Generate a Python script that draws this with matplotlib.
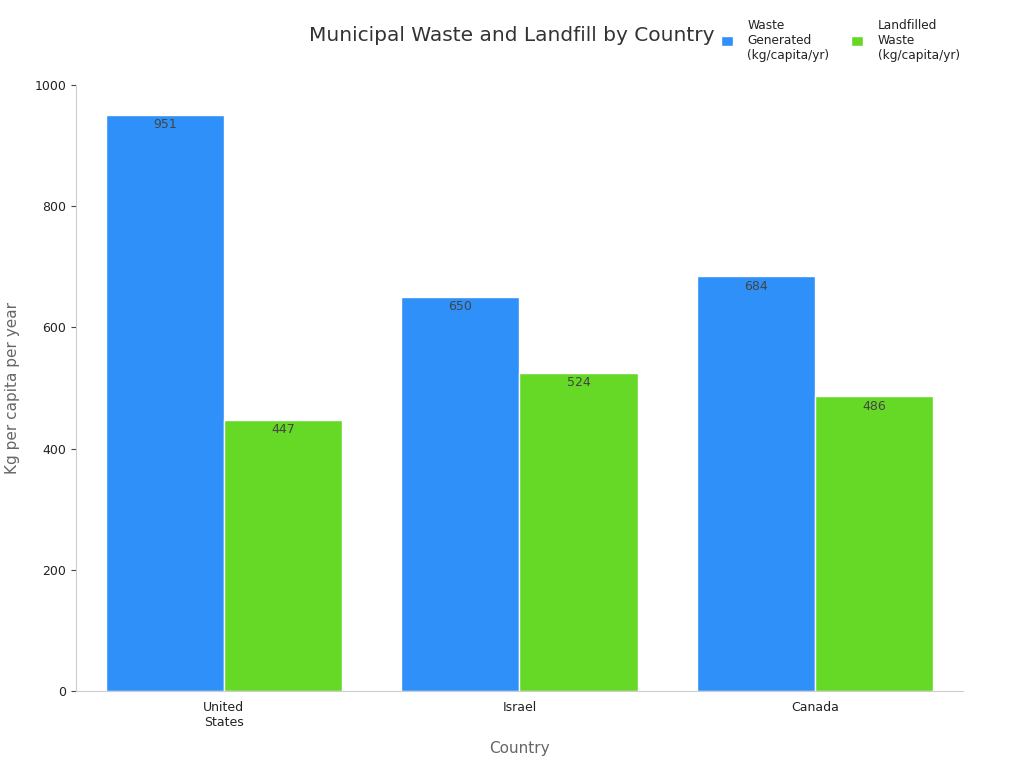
import matplotlib.pyplot as plt
import numpy as np

countries = ['United\nStates', 'Israel', 'Canada']
waste_generated = [951, 650, 684]
landfilled_waste = [447, 524, 486]
series_names = ['Waste\nGenerated\n(kg/capita/yr)', 'Landfilled\nWaste\n(kg/capita/yr)']
colors = ['#2E90F8', '#66D926']


def main():
    fig = plt.figure(figsize=(10.24, 7.68), dpi=100)
    ax = fig.add_axes([0.0742, 0.1003, 0.8662, 0.789])

    x = np.arange(len(countries))
    width = 0.4
    for i, vals in enumerate([waste_generated, landfilled_waste]):
        offset = (i - 0.5) * width
        bars = ax.bar(x + offset, vals, width, color=colors[i],
                      edgecolor='white', linewidth=1, label=series_names[i])
        for b, v in zip(bars, vals):
            ax.text(b.get_x() + b.get_width() / 2, v - 5, str(v),
                    ha='center', va='top', fontsize=9, color='#444444')

    ax.set_xlim(-0.5, 2.5)
    ax.set_ylim(0, 1000)
    ax.set_yticks([0, 200, 400, 600, 800, 1000])
    ax.set_xticks(x)
    ax.set_xticklabels(countries, fontsize=9, color='#222222')
    ax.tick_params(axis='y', labelsize=9, labelcolor='#222222', color='#444444')
    ax.tick_params(axis='x', length=0, pad=7)
    for s in ['top', 'right']:
        ax.spines[s].set_visible(False)
    for s in ['left', 'bottom']:
        ax.spines[s].set_color('#cccccc')

    ax.set_xlabel('Country', fontsize=11, color='#666666', labelpad=9)
    ax.set_ylabel('Kg per capita per year', fontsize=11, color='#666666', labelpad=10)

    fig.text(0.5, 0.954, 'Municipal Waste and Landfill by Country',
             ha='center', va='center', fontsize=14.5, color='#333333')
    fig.legend(loc='upper right', bbox_to_anchor=(0.948, 0.99), ncol=2,
               frameon=False, fontsize=8.7, handlelength=1, handleheight=1,
               columnspacing=1.8, handletextpad=1.2, labelcolor='#222222')

    fig.savefig('out.png', dpi=100)


if __name__ == '__main__':
    main()
